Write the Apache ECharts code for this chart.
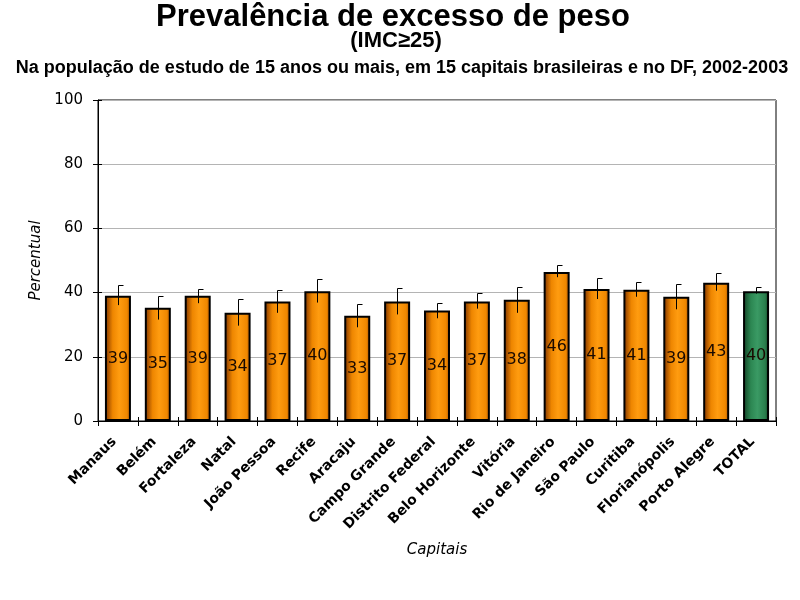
<!DOCTYPE html>
<html>
<head>
<meta charset="utf-8">
<script src="https://cdn.jsdelivr.net/npm/echarts@6/dist/echarts.min.js"></script>
<style>html,body{margin:0;padding:0;background:#fff}#c{width:800px;height:600px}</style>
</head>
<body>
<div id="c"></div>
<script>
const categories = ['Manaus','Belém','Fortaleza','Natal','João Pessoa','Recife','Aracaju','Campo Grande','Distrito Federal','Belo Horizonte','Vitória','Rio de Janeiro','São Paulo','Curitiba','Florianópolis','Porto Alegre','TOTAL'];
const values  = [39.0,35.3,39.0,33.7,37.2,40.4,32.8,37.2,34.4,37.2,37.8,46.4,41.1,40.9,38.7,43.1,40.4];
const errLow  = [36.1,31.6,36.7,29.7,33.7,36.9,29.2,33.2,32.0,35.0,33.7,44.8,38.0,38.7,34.8,40.6,39.7];
const errHigh = [42.3,38.8,41.0,37.9,40.7,44.1,36.3,41.3,36.7,39.8,41.6,48.5,44.4,43.2,42.6,46.0,41.6];
const yTicks  = [0,20,40,60,80,100];

const orangeGrad = new echarts.graphic.LinearGradient(0,0,1,0,[
  {offset:0,color:'#7a3000'},{offset:0.3,color:'#ee8600'},{offset:0.55,color:'#ff9c10'},
  {offset:0.85,color:'#f08800'},{offset:1,color:'#a04800'}]);
const greenGrad = new echarts.graphic.LinearGradient(0,0,1,0,[
  {offset:0,color:'#123f24'},{offset:0.3,color:'#2c8752'},{offset:0.55,color:'#3a9a64'},
  {offset:0.85,color:'#2a7f4d'},{offset:1,color:'#0f3a20'}]);

const chart = echarts.init(document.getElementById('c'), null, {renderer:'canvas'});
const FONT = 'DejaVu Sans';
chart.setOption({
  animation:false,
  backgroundColor:'#fff',
  graphic:[
    {type:'text', x:393, y:17, style:{text:'Prevalência de excesso de peso', font:'bold 31px "Liberation Sans"', fill:'#000', textAlign:'center', textVerticalAlign:'middle'}},
    {type:'text', x:396, y:41, style:{text:'(IMC≥25)', font:'bold 22px "Liberation Sans"', fill:'#000', textAlign:'center', textVerticalAlign:'middle'}},
    {type:'text', x:402, y:68, style:{text:'Na população de estudo de 15 anos ou mais, em 15 capitais brasileiras e no DF, 2002-2003', font:'bold 18px "Liberation Sans"', fill:'#000', textAlign:'center', textVerticalAlign:'middle'}}
  ],
  grid:{left:98, right:24, top:100, bottom:179, show:true, borderColor:'#000', borderWidth:1, backgroundColor:'transparent'},
  xAxis:[{
    type:'category', data:categories, position:'bottom',
    axisLine:{lineStyle:{color:'#000', width:1}},
    axisTick:{show:true, interval:0, length:5, lineStyle:{color:'#000'}},
    axisLabel:{rotate:45, margin:15, padding:[0,5,0,0], fontFamily:FONT, fontWeight:'bold', fontSize:14, color:'#000', interval:0},
    name:'Capitais', nameLocation:'middle', nameGap:122,
    nameTextStyle:{fontFamily:FONT, fontStyle:'italic', fontSize:15, color:'#000'}
  },{
    type:'category', data:categories, position:'bottom',
    axisLine:{show:false}, axisLabel:{show:false},
    axisTick:{show:true, interval:0, inside:true, length:4, lineStyle:{color:'#000'}}
  }],
  yAxis:[{
    type:'value', min:0, max:100, interval:20,
    axisLine:{show:true, lineStyle:{color:'#000'}},
    axisTick:{show:true, length:5, lineStyle:{color:'#000'}},
    axisLabel:{margin:15, fontFamily:FONT, fontSize:15, color:'#000', formatter:v=>yTicks.includes(v)?String(v):''},
    splitLine:{show:true, lineStyle:{color:'#b4b4b4', width:1}},
    name:'Percentual', nameLocation:'middle', nameGap:47, nameRotate:90,
    nameTextStyle:{fontFamily:FONT, fontStyle:'italic', fontSize:15, color:'#000'}
  },{
    type:'value', min:0, max:100, interval:20, position:'left',
    axisLine:{show:false}, axisLabel:{show:false}, splitLine:{show:false},
    axisTick:{show:true, inside:true, length:4, lineStyle:{color:'#000'}}
  }],
  series:[{
    type:'bar', barWidth:26,
    data: values.map((v,i)=>({value:v, itemStyle:{color: categories[i]==='TOTAL'?greenGrad:orangeGrad}})),
    itemStyle:{borderColor:'#000', borderWidth:2},
    label:{show:true, position:'inside', formatter:p=>Math.round(p.value), fontFamily:FONT, fontSize:16, color:'#1a0a00'},
    z:2
  },{
    type:'custom',
    data: categories.map((c,i)=>[i, errLow[i], errHigh[i]]),
    encode:{x:0, y:[1,2]},
    renderItem:(params, api)=>{
      const i = api.value(0);
      const lo = api.coord([i, api.value(1)]);
      const hi = api.coord([i, api.value(2)]);
      const x = Math.round(lo[0]) + 0.5;
      const yh = Math.round(hi[1]) + 0.5;
      return {type:'group', children:[
        {type:'line', shape:{x1:x, y1:lo[1], x2:x, y2:yh}, style:{stroke:'#000', lineWidth:1}},
        {type:'line', shape:{x1:x, y1:yh, x2:x+5, y2:yh}, style:{stroke:'#000', lineWidth:1}}
      ]};
    },
    z:5
  }]
});
</script>
</body>
</html>
